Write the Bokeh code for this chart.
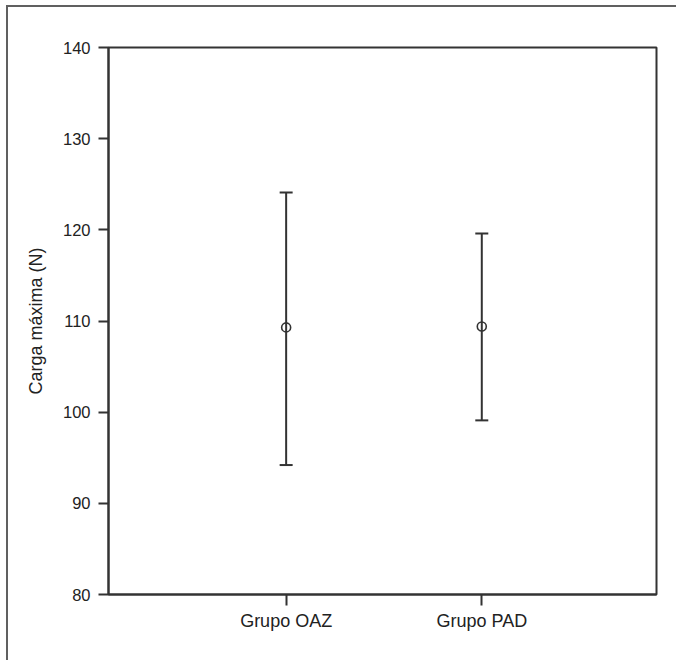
from bokeh.plotting import figure
from bokeh.models import FixedTicker, Range1d
from bokeh.embed import file_html
from bokeh.resources import INLINE

# Data
categories = ["Grupo OAZ", "Grupo PAD"]
means = [109.3, 109.4]
upper = [124.1, 119.6]
lower = [94.2, 99.1]
y_ticks = [80, 90, 100, 110, 120, 130, 140]

xs = [i + 1 for i in range(len(categories))]

C = "#333333"
FONT = "Liberation Sans"

p = figure(
    width=676, height=660,
    x_range=Range1d(0.092, 2.893), y_range=Range1d(80, 140),
    output_backend="svg", toolbar_location=None,
    min_border_left=108, min_border_right=20, min_border_top=47, min_border_bottom=66,
)
# outer page frame (top and left edges only, as in the reference)
p.styles = {
    "background-color": "white",
    "background-image": "linear-gradient(#606060,#606060), linear-gradient(#606060,#606060)",
    "background-size": "2px 100%, 100% 2px",
    "background-position": "6px 5px, 6px 5px",
    "background-repeat": "no-repeat",
}
p.grid.visible = False
p.background_fill_color = "white"
p.border_fill_color = None
p.outline_line_color = C
p.outline_line_width = 2

# axes
p.xaxis.ticker = FixedTicker(ticks=xs)
p.xaxis.major_label_overrides = {x: c for x, c in zip(xs, categories)}
p.xaxis.minor_tick_line_color = None
p.xaxis.major_tick_in = 0
p.xaxis.major_tick_out = 11
p.xaxis.major_label_standoff = 5
p.xaxis.major_label_text_font_size = "18px"

p.yaxis.ticker = FixedTicker(ticks=y_ticks)
p.yaxis.minor_tick_line_color = None
p.yaxis.major_tick_in = 0
p.yaxis.major_tick_out = 10
p.yaxis.major_label_standoff = 8
p.yaxis.major_label_text_font_size = "16.5px"
p.yaxis.axis_label = "Carga máxima (N)"
p.yaxis.axis_label_text_font_size = "18px"
p.yaxis.axis_label_text_font_style = "normal"
p.yaxis.axis_label_standoff = 14

for ax in (p.xaxis, p.yaxis):
    ax.axis_line_color = C
    ax.axis_line_width = 2
    ax.major_tick_line_color = C
    ax.major_tick_line_width = 2
    ax.major_label_text_font = FONT
    ax.major_label_text_color = "#222222"
    ax.axis_label_text_font = FONT
    ax.axis_label_text_color = "#222222"

# error bars
p.segment(x0=xs, y0=lower, x1=xs, y1=upper, line_color=C, line_width=2)
p.scatter(x=xs, y=upper, marker="dash", size=13, line_color=C, line_width=2)
p.scatter(x=xs, y=lower, marker="dash", size=13, line_color=C, line_width=2)
p.scatter(x=xs, y=means, marker="circle", size=9, line_color=C, line_width=1.6,
          fill_alpha=0)

open("out.html", "w").write(file_html(p, INLINE))
